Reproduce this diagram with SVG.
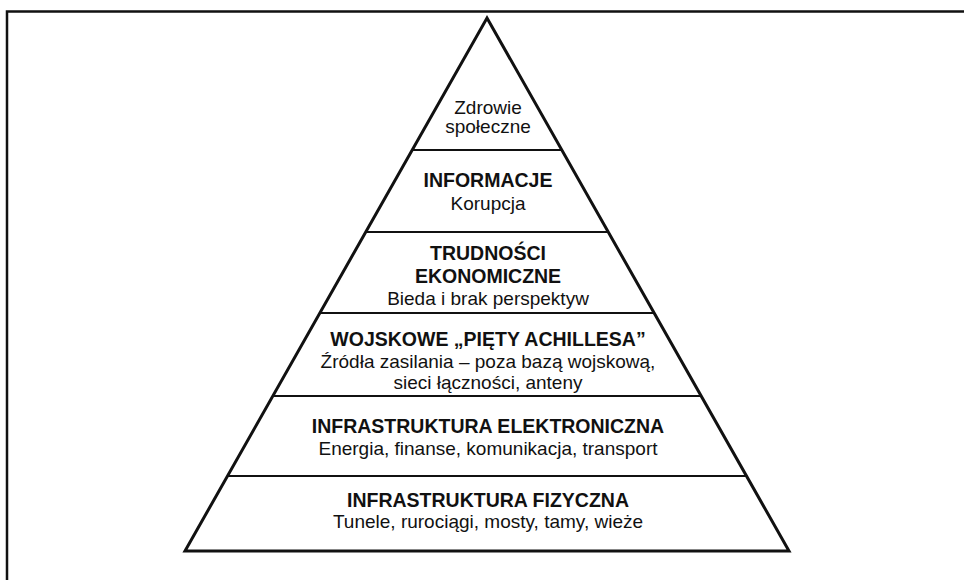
<svg xmlns="http://www.w3.org/2000/svg" width="964" height="580" viewBox="0 0 964 580">
<style>
  .frame{fill:none;stroke:#111;stroke-width:2.5}
  .side{fill:#fff;stroke:#111;stroke-width:3;stroke-linejoin:miter}
  .div{stroke:#111;stroke-width:2}
  text{font-family:"Liberation Sans",Arial,Helvetica,sans-serif;fill:#111;text-anchor:middle}
  .b{font-weight:bold;font-size:19.5px}
  .n{font-size:19px}
</style>
<rect width="964" height="580" fill="#fff"/>
<g id="frame">
  <polyline class="frame" points="7,580 7,11.5 964,11.5"/>
</g>
<g id="pyramid">
  <polygon class="side" points="487,18 789,551 185,551"/>
</g>
<g id="connectors">
  <line class="div" x1="412" y1="150" x2="562" y2="150"/>
  <line class="div" x1="366" y1="232" x2="608" y2="232"/>
  <line class="div" x1="320" y1="313" x2="654" y2="313"/>
  <line class="div" x1="273" y1="396" x2="701" y2="396"/>
  <line class="div" x1="228" y1="476" x2="746" y2="476"/>
</g>
<g id="layer-zdrowie">
  <text class="n" x="488" y="114">Zdrowie</text>
  <text class="n" x="488" y="133">społeczne</text>
</g>
<g id="layer-informacje">
  <text class="b" x="488" y="187">INFORMACJE</text>
  <text class="n" x="488" y="210">Korupcja</text>
</g>
<g id="layer-trudnosci">
  <text class="b" x="488" y="260">TRUDNOŚCI</text>
  <text class="b" x="488" y="283">EKONOMICZNE</text>
  <text class="n" x="488" y="305">Bieda i brak perspektyw</text>
</g>
<g id="layer-wojskowe">
  <text class="b" x="488" y="346">WOJSKOWE „PIĘTY ACHILLESA”</text>
  <text class="n" x="488" y="368">Źródła zasilania – poza bazą wojskową,</text>
  <text class="n" x="488" y="389">sieci łączności, anteny</text>
</g>
<g id="layer-elektroniczna">
  <text class="b" x="488" y="433">INFRASTRUKTURA ELEKTRONICZNA</text>
  <text class="n" x="488" y="455">Energia, finanse, komunikacja, transport</text>
</g>
<g id="layer-fizyczna">
  <text class="b" x="488" y="507">INFRASTRUKTURA FIZYCZNA</text>
  <text class="n" x="488" y="528">Tunele, rurociągi, mosty, tamy, wieże</text>
</g>
</svg>
